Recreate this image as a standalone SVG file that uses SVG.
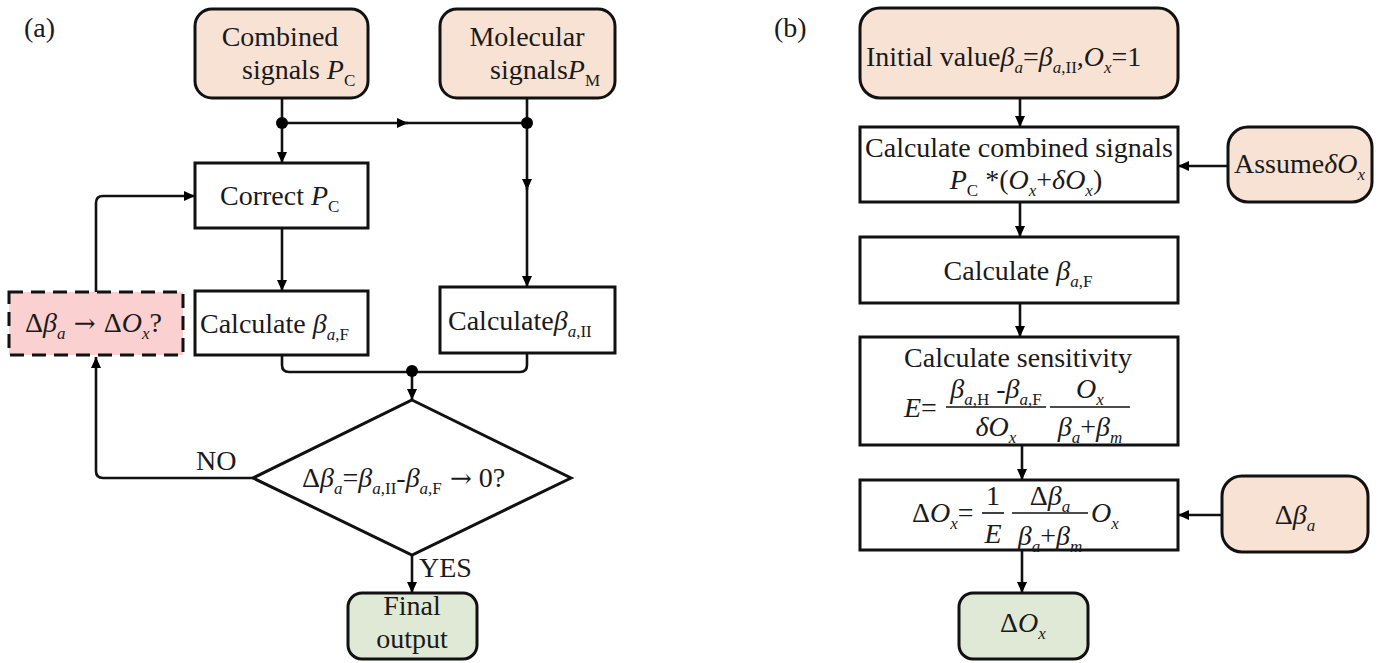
<svg xmlns="http://www.w3.org/2000/svg" width="1386" height="663" viewBox="0 0 1386 663">
<defs>
<marker id="ah" markerUnits="userSpaceOnUse" markerWidth="11" markerHeight="10" refX="11" refY="5" orient="auto">
<path d="M0,0 L11,5 L0,10 z" fill="#000"/>
</marker>
<style>
.bg{fill:#fff}
.box{fill:#fff;stroke:#111;stroke-width:3}
.in{fill:#f8e2d4;stroke:#111;stroke-width:3}
.out{fill:#dfe9d6;stroke:#111;stroke-width:3}
.dash{fill:#fbd0d0;stroke:#111;stroke-width:3;stroke-dasharray:14 8}
.dia{fill:#fff;stroke:#111;stroke-width:3}
.ln{fill:none;stroke:#111;stroke-width:2.6}
.ar{fill:none;stroke:#111;stroke-width:2.6;marker-end:url(#ah)}
.bar{stroke:#111;stroke-width:1.6}
.t{font-family:"Liberation Serif","Times New Roman",serif;font-size:28px;fill:#1a1a1a}
.c{text-anchor:middle}
.i{font-style:italic}
.s{font-size:17px}
.arr{font-family:"DejaVu Serif",serif;font-size:26px}
</style>
</defs>
<rect class="bg" x="0" y="0" width="1386" height="663"/>

<text class="t" x="24" y="37">(a)</text>
<text class="t" x="774" y="37">(b)</text>

<g id="connectors">
<path class="ln" d="M282 98 V123"/>
<path class="ar" d="M282 123 H408"/>
<path class="ln" d="M404 123 H527"/>
<path class="ar" d="M282 123 V163"/>
<path class="ln" d="M527 98 V123"/>
<path class="ar" d="M527 123 V190"/>
<path class="ar" d="M527 186 V287"/>
<path class="ar" d="M282 228 V291"/>
<path class="ln" d="M282 355 V365 Q282 372 289 372 H520 Q527 372 527 365 V353"/>
<path class="ar" d="M412 372 V400"/>
<path class="ar" d="M253 478 H103 Q96 478 96 471 V357"/>
<path class="ar" d="M96 292 V203 Q96 196 103 196 H195"/>
<path class="ar" d="M412 555 V593"/>
<circle cx="282" cy="123" r="6" fill="#000"/>
<circle cx="527" cy="123" r="6" fill="#000"/>
<circle cx="412" cy="371" r="6" fill="#000"/>

<path class="ar" d="M1020 99 V127"/>
<path class="ar" d="M1228 166 H1178"/>
<path class="ar" d="M1020 202 V237"/>
<path class="ar" d="M1020 303 V337"/>
<path class="ar" d="M1022 445 V480"/>
<path class="ar" d="M1222 515 H1178"/>
<path class="ar" d="M1022 550 V593"/>
</g>

<g id="combined">
<rect class="in" x="195" y="9" width="173" height="89" rx="17"/>
<text class="t c" x="280" y="46">Combined</text>
<text class="t" x="242" y="79">signals <tspan class="i">P</tspan><tspan class="s" dy="7">C</tspan></text>
</g>

<g id="molecular">
<rect class="in" x="440" y="9" width="175" height="89" rx="17"/>
<text class="t c" x="527" y="46">Molecular</text>
<text class="t" x="490" y="79">signals<tspan class="i">P</tspan><tspan class="s" dy="7">M</tspan></text>
</g>

<g id="correct">
<rect class="box" x="195" y="163" width="173" height="65"/>
<text class="t" x="220" y="205">Correct <tspan class="i">P</tspan><tspan class="s" dy="7">C</tspan></text>
</g>

<g id="calcF">
<rect class="box" x="195" y="291" width="173" height="64"/>
<text class="t" x="200" y="333">Calculate <tspan class="i">β</tspan><tspan class="s i" dy="7">a</tspan><tspan class="s">,F</tspan></text>
</g>

<g id="calcH">
<rect class="box" x="440" y="287" width="175" height="66"/>
<text class="t" x="448" y="330">Calculate<tspan class="i">β</tspan><tspan class="s i" dy="7">a</tspan><tspan class="s">,II</tspan></text>
</g>

<g id="query">
<rect class="dash" x="9" y="292" width="174" height="63"/>
<text class="t" x="25" y="332">Δ<tspan class="i">β</tspan><tspan class="s i" dy="7">a</tspan><tspan class="arr" dy="-7"> → </tspan><tspan>Δ</tspan><tspan class="i">O</tspan><tspan class="s i" dy="7">x</tspan><tspan dy="-7">?</tspan></text>
</g>

<g id="decision">
<polygon class="dia" points="412,400 571,478 412,555 253,478"/>
<text class="t" x="302" y="487">Δ<tspan class="i">β</tspan><tspan class="s i" dy="7">a</tspan><tspan dy="-7">=</tspan><tspan class="i">β</tspan><tspan class="s i" dy="7">a</tspan><tspan class="s">,II</tspan><tspan dy="-7">-</tspan><tspan class="i">β</tspan><tspan class="s i" dy="7">a</tspan><tspan class="s">,F</tspan><tspan class="arr" dy="-7"> →</tspan><tspan> 0?</tspan></text>
<text class="t" x="196" y="470">NO</text>
<text class="t" x="419" y="577">YES</text>
</g>

<g id="final">
<rect class="out" x="348" y="593" width="129" height="66" rx="14"/>
<text class="t c" x="412" y="615">Final</text>
<text class="t c" x="412" y="648">output</text>
</g>

<g id="initial">
<rect class="in" x="860" y="8" width="318" height="90" rx="20"/>
<text class="t" x="866" y="66">Initial value<tspan class="i">β</tspan><tspan class="s i" dy="7">a</tspan><tspan dy="-7">=</tspan><tspan class="i">β</tspan><tspan class="s i" dy="7">a</tspan><tspan class="s">,II</tspan><tspan dy="-7">,</tspan><tspan class="i">O</tspan><tspan class="s i" dy="7">x</tspan><tspan dy="-7">=1</tspan></text>
</g>

<g id="calcCombined">
<rect class="box" x="860" y="127" width="318" height="75"/>
<text class="t c" x="1019" y="157">Calculate combined signals</text>
<text class="t c" x="1026" y="189"><tspan class="i">P</tspan><tspan class="s" dy="7">C</tspan><tspan dy="-7"> *(</tspan><tspan class="i">O</tspan><tspan class="s i" dy="7">x</tspan><tspan dy="-7">+</tspan><tspan class="i">δO</tspan><tspan class="s i" dy="7">x</tspan><tspan dy="-7">)</tspan></text>
</g>

<g id="assume">
<rect class="in" x="1228" y="127" width="144" height="75" rx="20"/>
<text class="t" x="1234" y="173">Assume<tspan class="i">δO</tspan><tspan class="s i" dy="7">x</tspan></text>
</g>

<g id="calcF2">
<rect class="box" x="860" y="237" width="318" height="66"/>
<text class="t c" x="1018" y="280">Calculate <tspan class="i">β</tspan><tspan class="s i" dy="7">a</tspan><tspan class="s">,F</tspan></text>
</g>

<g id="sensitivity">
<rect class="box" x="860" y="337" width="318" height="108"/>
<text class="t c" x="1018" y="367">Calculate sensitivity</text>
<text class="t i" x="904" y="417">E<tspan font-style="normal">=</tspan></text>
<text class="t c" x="996" y="398"><tspan class="i">β</tspan><tspan class="s i" dy="7">a</tspan><tspan class="s">,H</tspan><tspan dy="-7"> -</tspan><tspan class="i">β</tspan><tspan class="s i" dy="7">a</tspan><tspan class="s">,F</tspan></text>
<line class="bar" x1="946" y1="407" x2="1046" y2="407"/>
<text class="t c" x="996" y="436"><tspan class="i">δO</tspan><tspan class="s i" dy="7">x</tspan></text>
<text class="t c" x="1090" y="398"><tspan class="i">O</tspan><tspan class="s i" dy="7">x</tspan></text>
<line class="bar" x1="1050" y1="407" x2="1130" y2="407"/>
<text class="t c" x="1090" y="436"><tspan class="i">β</tspan><tspan class="s i" dy="7">a</tspan><tspan dy="-7">+</tspan><tspan class="i">β</tspan><tspan class="s i" dy="7">m</tspan></text>
</g>

<g id="deltaFormula">
<rect class="box" x="860" y="480" width="318" height="70"/>
<text class="t" x="912" y="522">Δ<tspan class="i">O</tspan><tspan class="s i" dy="7">x</tspan><tspan dy="-7">=</tspan></text>
<text class="t c" x="993" y="505">1</text>
<line class="bar" x1="982" y1="513" x2="1004" y2="513"/>
<text class="t c i" x="993" y="543">E</text>
<text class="t c" x="1050" y="505">Δ<tspan class="i">β</tspan><tspan class="s i" dy="7">a</tspan></text>
<line class="bar" x1="1012" y1="513" x2="1088" y2="513"/>
<text class="t c" x="1050" y="545"><tspan class="i">β</tspan><tspan class="s i" dy="7">a</tspan><tspan dy="-7">+</tspan><tspan class="i">β</tspan><tspan class="s i" dy="7">m</tspan></text>
<text class="t" x="1091" y="522"><tspan class="i">O</tspan><tspan class="s i" dy="7">x</tspan></text>
</g>

<g id="deltaBeta">
<rect class="in" x="1222" y="476" width="146" height="76" rx="20"/>
<text class="t c" x="1295" y="524">Δ<tspan class="i">β</tspan><tspan class="s i" dy="7">a</tspan></text>
</g>

<g id="outputDelta">
<rect class="out" x="959" y="593" width="129" height="66" rx="14"/>
<text class="t c" x="1023" y="632">Δ<tspan class="i">O</tspan><tspan class="s i" dy="7">x</tspan></text>
</g>
</svg>
